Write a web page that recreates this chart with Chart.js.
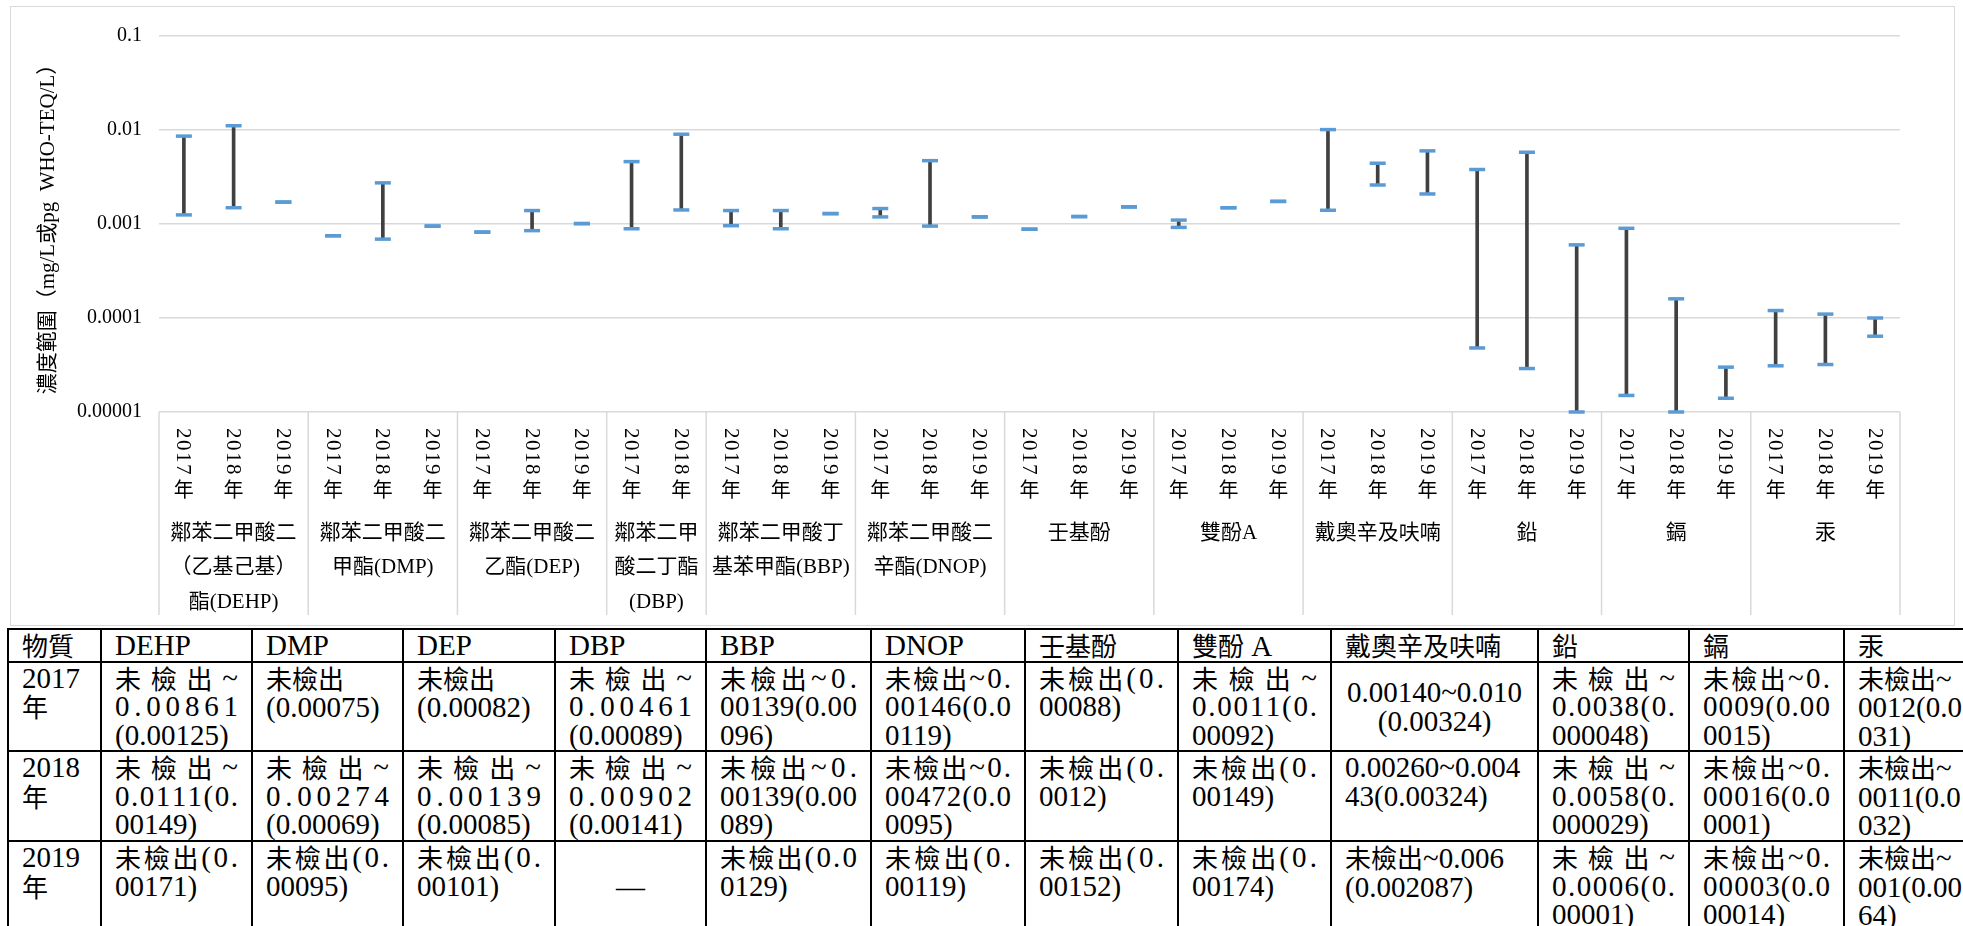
<!DOCTYPE html>
<html>
<head>
<meta charset="utf-8">
<script src="https://cdn.jsdelivr.net/npm/chart.js@4.4.1/dist/chart.umd.min.js"></script>
<style>
  body { margin: 0; background: #fff; width: 1963px; height: 926px; overflow: hidden; position: relative;
         font-family: "Liberation Serif", "Times New Roman", serif; }
  #frame { position: absolute; left: 10px; top: 6px; width: 1943px; height: 618px; border: 1px solid #d9d9d9; }
  #tbl { position: absolute; left: 7px; top: 628px; width: 1988px; border-collapse: collapse; table-layout: fixed;
         font-family: "Liberation Serif", "Noto Sans CJK TC", serif; font-size: 29px; color: #000; }
  #tbl td { border: 2px solid #000; padding: 1px 13px 0 13px; vertical-align: top; line-height: 28.5px; overflow: hidden; }
  #tbl td.mid { vertical-align: middle; text-align: center; }
  .ln { white-space: nowrap; }
  .dist { display: flex; justify-content: space-between; }
  .cjk { font-family: "Noto Sans CJK TC"; font-size: 26px; }
</style>
</head>
<body>
<div id="frame"><canvas id="chart" width="1943" height="618"></canvas></div>
<table id="tbl"></table>
<script>
const yearLabels = [
  "2017年", "2018年", "2019年",
  "2017年", "2018年", "2019年",
  "2017年", "2018年", "2019年",
  "2017年", "2018年",
  "2017年", "2018年", "2019年",
  "2017年", "2018年", "2019年",
  "2017年", "2018年", "2019年",
  "2017年", "2018年", "2019年",
  "2017年", "2018年", "2019年",
  "2017年", "2018年", "2019年",
  "2017年", "2018年", "2019年",
  "2017年", "2018年", "2019年"
];
const groupSizes = [3, 3, 3, 2, 3, 3, 3, 3, 3, 3, 3, 3];
const groupNames = [
  ["鄰苯二甲酸二", "（乙基己基）", "酯(DEHP)"],
  ["鄰苯二甲酸二", "甲酯(DMP)"],
  ["鄰苯二甲酸二", "乙酯(DEP)"],
  ["鄰苯二甲", "酸二丁酯", "(DBP)"],
  ["鄰苯二甲酸丁", "基苯甲酯(BBP)"],
  ["鄰苯二甲酸二", "辛酯(DNOP)"],
  ["壬基酚"],
  ["雙酚A"],
  ["戴奧辛及呋喃"],
  ["鉛"],
  ["鎘"],
  ["汞"]
];
const lowValues = [
  0.00125, 0.00149, 0.00171,
  0.00075, 0.00069, 0.00095,
  0.00082, 0.00085, 0.00101,
  0.00089, 0.00141,
  0.00096, 0.00089, 0.00129,
  0.00119, 0.00095, 0.00119,
  0.00088, 0.0012, 0.00152,
  0.00092, 0.00149, 0.00174,
  0.0014, 0.0026, 0.002087,
  0.000048, 0.000029, 0.00001,
  0.000015, 0.00001, 0.000014,
  0.000031, 0.000032, 0.000064
];
const highValues = [
  0.00861, 0.0111, 0.00171,
  0.00075, 0.00274, 0.00095,
  0.00082, 0.00139, 0.00101,
  0.00461, 0.00902,
  0.00139, 0.00139, 0.00129,
  0.00146, 0.00472, 0.00119,
  0.00088, 0.0012, 0.00152,
  0.0011, 0.00149, 0.00174,
  0.0101, 0.00443, 0.006,
  0.0038, 0.0058, 0.0006,
  0.0009, 0.00016, 0.00003,
  0.00012, 0.00011, 0.0001
];
const yTicks = [0.00001, 0.0001, 0.001, 0.01, 0.1];
const yTickLabels = ["0.00001", "0.0001", "0.001", "0.01", "0.1"];
const yTitle = "濃度範圍（mg/L或pg  WHO-TEQ/L）";

// table text: "|" separates paragraphs, "\n" separates lines inside a paragraph
const tableHead = ["物質", "DEHP", "DMP", "DEP", "DBP", "BBP", "DNOP", "壬基酚", "雙酚 A", "戴奧辛及呋喃", "鉛", "鎘", "汞"];
const tableYears = ["2017|年", "2018|年", "2019|年"];
const tableRows = [
  ["未檢出~\n0.00861\n(0.00125)", "未檢出|(0.00075)", "未檢出|(0.00082)", "未檢出~\n0.00461\n(0.00089)",
   "未檢出~0.\n00139(0.00\n096)", "未檢出~0.\n00146(0.0\n0119)", "未檢出(0.\n00088)", "未檢出~\n0.0011(0.\n00092)",
   "0.00140~0.010|(0.00324)", "未檢出~\n0.0038(0.\n000048)", "未檢出~0.\n0009(0.00\n0015)", "未檢出~|0012(0.0|031)"],
  ["未檢出~\n0.0111(0.\n00149)", "未檢出~\n0.00274\n(0.00069)", "未檢出~\n0.00139\n(0.00085)", "未檢出~\n0.00902\n(0.00141)",
   "未檢出~0.\n00139(0.00\n089)", "未檢出~0.\n00472(0.0\n0095)", "未檢出(0.\n0012)", "未檢出(0.\n00149)",
   "0.00260~0.004|43(0.00324)", "未檢出~\n0.0058(0.\n000029)", "未檢出~0.\n00016(0.0\n0001)", "未檢出~|0011(0.0|032)"],
  ["未檢出(0.\n00171)", "未檢出(0.\n00095)", "未檢出(0.\n00101)", "—",
   "未檢出(0.0\n0129)", "未檢出(0.\n00119)", "未檢出(0.\n00152)", "未檢出(0.\n00174)",
   "未檢出~0.006|(0.002087)", "未檢出~\n0.0006(0.\n00001)", "未檢出~0.\n00003(0.0\n00014)", "未檢出~|001(0.00|64)"]
];
const centeredCells = ["0-8", "2-3"];
const colWidths = [93, 151, 151, 152, 151, 165, 154, 153, 153, 207, 151, 155, 152];
const rowHeights = [31, 88, 90, 92];

const SERIF = '"Liberation Serif", "Times New Roman", Times, serif';
const SERIF_CJK = '"Liberation Serif", "Times New Roman", "Noto Sans CJK TC", serif';

function cellHTML(text, plain) {
  return text.split("|").map(par => {
    const lines = par.split("\n");
    return lines.map((ln, k) => {
      const spans = [...ln].map(ch =>
        /[\u2E80-\u9FFF\uFF00-\uFFEF]/.test(ch) ? `<span class="cjk">${ch}</span>` : `<span>${ch}</span>`
      ).join("");
      const dist = !plain && k < lines.length - 1 ? " dist" : "";
      return `<div class="ln${dist}">${spans}</div>`;
    }).join("");
  }).join("");
}

let html = "<colgroup>" + colWidths.map(w => `<col style="width:${w}px">`).join("") + "</colgroup>";
html += `<tr style="height:${rowHeights[0]}px">` + tableHead.map(h => `<td>${cellHTML(h, true)}</td>`).join("") + "</tr>";
tableRows.forEach((row, r) => {
  html += `<tr style="height:${rowHeights[r + 1]}px"><td>${cellHTML(tableYears[r], true)}</td>`;
  row.forEach((c, i) => {
    const mid = centeredCells.includes(r + "-" + i);
    html += `<td${mid ? ' class="mid"' : ""}>${cellHTML(c, mid)}</td>`;
  });
  html += "</tr>";
});
document.getElementById("tbl").innerHTML = html;

const axisLabels = {
  id: "axisLabels",
  afterDraw(chart) {
    const ctx = chart.ctx;
    const x = chart.scales.x;
    const area = chart.chartArea;
    const step = x.getPixelForValue(1) - x.getPixelForValue(0);
    ctx.save();
    ctx.fillStyle = "#000";

    yearLabels.forEach((lab, i) => {
      const px = x.getPixelForValue(i);
      ctx.save();
      ctx.translate(px, area.bottom + 16);
      ctx.rotate(Math.PI / 2);
      ctx.font = "21px " + SERIF;
      ctx.letterSpacing = "1.5px";
      ctx.textAlign = "left";
      ctx.textBaseline = "middle";
      ctx.fillText(lab.slice(0, -1), 0, 1);
      ctx.restore();
      ctx.font = '20px "Noto Sans CJK TC"';
      ctx.textAlign = "center";
      ctx.textBaseline = "middle";
      ctx.fillText(lab.slice(-1), px, area.bottom + 77);
    });

    const bounds = [0];
    groupSizes.forEach(n => bounds.push(bounds[bounds.length - 1] + n));
    ctx.strokeStyle = "#d9d9d9";
    ctx.lineWidth = 1.5;
    bounds.forEach(b => {
      const bx = b < yearLabels.length ? x.getPixelForValue(b) - step / 2 : x.getPixelForValue(b - 1) + step / 2;
      ctx.beginPath();
      ctx.moveTo(bx, area.bottom);
      ctx.lineTo(bx, area.bottom + 203);
      ctx.stroke();
    });

    ctx.font = "21px " + SERIF_CJK;
    ctx.textAlign = "center";
    ctx.textBaseline = "middle";
    groupNames.forEach((lines, g) => {
      const cx = (x.getPixelForValue(bounds[g]) + x.getPixelForValue(bounds[g + 1] - 1)) / 2;
      lines.forEach((t, k) => ctx.fillText(t, cx, area.bottom + 121 + k * 34.5));
    });
    ctx.restore();
  }
};

const capStyle = {
  type: "line",
  showLine: false,
  pointStyle: "line",
  pointRadius: 8,
  pointHoverRadius: 8,
  pointBorderWidth: 3.5,
  pointBorderColor: "#5B9BD5",
  borderColor: "#5B9BD5",
  clip: false,
  order: 1
};

Chart.defaults.font.family = SERIF;

const chart = new Chart(document.getElementById("chart"), {
  data: {
    labels: yearLabels,
    datasets: [
      {
        type: "bar",
        data: lowValues.map((v, i) => [v, highValues[i]]),
        backgroundColor: "#404040",
        barThickness: 3,
        order: 2
      },
      { ...capStyle, data: highValues },
      { ...capStyle, data: lowValues }
    ]
  },
  options: {
    responsive: false,
    animation: false,
    layout: { padding: { left: 21, right: 54, top: 21, bottom: 0 } },
    plugins: { legend: { display: false }, tooltip: { enabled: false } },
    scales: {
      x: {
        type: "category",
        offset: true,
        grid: { display: false },
        border: { display: false },
        ticks: { display: false },
        afterFit: s => { s.height = 213; }
      },
      y: {
        type: "logarithmic",
        min: yTicks[0],
        max: yTicks[yTicks.length - 1],
        afterBuildTicks: s => { s.ticks = yTicks.map(v => ({ value: v })); },
        afterFit: s => { s.width = 127; },
        border: { display: false },
        grid: { color: "#d9d9d9", lineWidth: 1.5, drawTicks: false },
        ticks: {
          autoSkip: false,
          padding: 17,
          color: "#000",
          font: { family: SERIF, size: 20 },
          callback: v => yTickLabels[yTicks.indexOf(v)]
        },
        title: {
          display: true,
          text: yTitle,
          color: "#000",
          font: { family: SERIF_CJK, size: 21 }
        }
      }
    }
  },
  plugins: [axisLabels]
});
document.fonts.ready.then(() => chart.update());
</script>
</body>
</html>
